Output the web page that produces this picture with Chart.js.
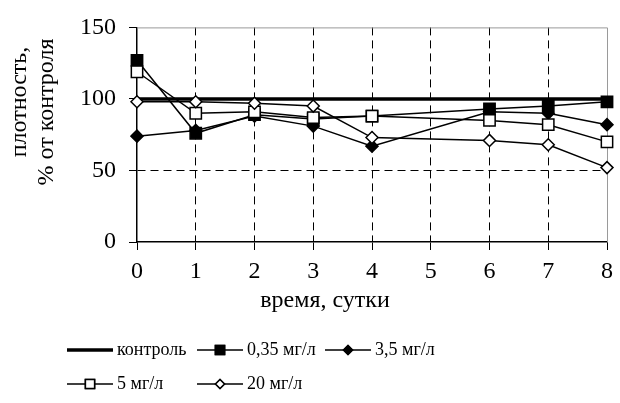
<!DOCTYPE html>
<html>
<head>
<meta charset="utf-8">
<script src="https://cdn.jsdelivr.net/npm/chart.js@4/dist/chart.umd.min.js"></script>
<style>
  body { margin: 0; background: #fff; }
</style>
</head>
<body>
<canvas id="density" width="620" height="403"></canvas>
<script>
var DAYS = [0, 1, 2, 3, 4, 6, 7, 8];

var SERIES_NAMES = ["контроль", "0,35 мг/л", "3,5 мг/л", "5 мг/л", "20 мг/л"];
var CONTROL = [100, 100, 100, 100, 100, 100, 100, 100];
var DOSE_035 = [127, 76, 89, 86, 88, 93, 95, 98];
var DOSE_35 = [74, 78, 88, 81, 67, 91, 90, 82];
var DOSE_5 = [119, 90, 91, 87, 88, 85, 82, 70];
var DOSE_20 = [98, 98, 97, 95, 73, 71, 68, 52];

var X_TICKS = [0, 1, 2, 3, 4, 5, 6, 7, 8];
var Y_TICKS = [0, 50, 100, 150];

var X_TITLE = "время, сутки";
var Y_TITLE = ["плотность,", "% от контроля"];

var FONT = "'Liberation Serif', 'Times New Roman', serif";

function points(values) {
    return values.map(function (v, i) {
        return { x: DAYS[i], y: v };
    });
}

function series(label, values, style, order) {
    return {
        label: label,
        data: points(values),
        borderColor: "#000",
        borderWidth: 1.5,
        pointStyle: style.shape,
        pointRadius: style.radius,
        pointBackgroundColor: style.fill,
        pointBorderColor: "#000",
        pointBorderWidth: 1.5,
        tension: 0,
        clip: false,
        order: order,
    };
}

const datasets = [
    {
        label: SERIES_NAMES[0],
        data: points(CONTROL),
        borderColor: "#000",
        borderWidth: 3.5,
        pointRadius: 0,
        clip: false,
        order: 5,
    },
    series(SERIES_NAMES[1], DOSE_035, { shape: "rect", radius: 8, fill: "#000" }, 3),
    series(SERIES_NAMES[2], DOSE_35, { shape: "rectRot", radius: 6, fill: "#000" }, 4),
    series(SERIES_NAMES[3], DOSE_5, { shape: "rect", radius: 8, fill: "#fff" }, 2),
    series(SERIES_NAMES[4], DOSE_20, { shape: "rectRot", radius: 6, fill: "#fff" }, 1),
];

// frame on top/right, axis titles and the grid legend under the plot
const decorations = {
    id: "decorations",
    beforeDatasetsDraw: function (chart) {
        const a = chart.chartArea;
        const ctx = chart.ctx;
        ctx.save();
        ctx.strokeStyle = "#9a9a9a";
        ctx.lineWidth = 1;
        ctx.beginPath();
        ctx.moveTo(a.left, a.top + 0.5);
        ctx.lineTo(a.right + 0.5, a.top + 0.5);
        ctx.lineTo(a.right + 0.5, a.bottom);
        ctx.stroke();
        ctx.restore();
    },
    afterDraw: function (chart) {
        const ctx = chart.ctx;
        ctx.save();
        ctx.fillStyle = "#000";
        ctx.textBaseline = "middle";

        ctx.font = "24px " + FONT;
        ctx.textAlign = "center";
        ctx.fillText(X_TITLE, 325, 301);

        ctx.save();
        ctx.translate(20, 102);
        ctx.rotate(-Math.PI / 2);
        ctx.fillText(Y_TITLE[0], 0, 0);
        ctx.restore();
        ctx.save();
        ctx.translate(47, 112);
        ctx.rotate(-Math.PI / 2);
        ctx.fillText(Y_TITLE[1], 0, 0);
        ctx.restore();

        const cols = [67, 197, 325];
        const rows = [350, 384];
        ctx.font = "18px " + FONT;
        ctx.textAlign = "left";
        chart.data.datasets.forEach(function (ds, i) {
            const x = cols[i % 3];
            const y = rows[Math.floor(i / 3)];
            ctx.strokeStyle = "#000";
            ctx.lineWidth = ds.borderWidth;
            ctx.beginPath();
            ctx.moveTo(x, y);
            ctx.lineTo(x + 46, y);
            ctx.stroke();
            if (ds.pointRadius) {
                // legend markers are a bit smaller than the plotted ones
                Chart.helpers.drawPoint(ctx, {
                    pointStyle: ds.pointStyle,
                    radius: ds.pointRadius - 1.5,
                    borderWidth: ds.pointBorderWidth,
                }, x + 23, y);
                ctx.fillStyle = ds.pointBackgroundColor;
                ctx.strokeStyle = "#000";
                ctx.lineWidth = ds.pointBorderWidth;
                ctx.fill();
                ctx.stroke();
            }
            ctx.fillStyle = "#000";
            ctx.fillText(ds.label, x + 50, y);
        });
        ctx.restore();
    },
};

const config = {
    type: "line",
    data: { datasets: datasets },
    options: {
        animation: false,
        responsive: false,
        events: [],
        layout: {
            padding: { top: 26, right: 8, bottom: 0, left: 0 },
        },
        plugins: {
            legend: { display: false },
            tooltip: { enabled: false },
        },
        scales: {
            x: {
                type: "linear",
                min: X_TICKS[0],
                max: X_TICKS[X_TICKS.length - 1],
                afterFit: function (scale) {
                    scale.height = 161;
                },
                afterBuildTicks: function (scale) {
                    scale.ticks = X_TICKS.map(function (v) { return { value: v }; });
                },
                ticks: {
                    color: "#000",
                    padding: 7,
                    font: { family: FONT, size: 24 },
                    maxRotation: 0,
                },
                grid: {
                    color: function (c) {
                        const v = c.tick ? c.tick.value : 0;
                        return v > 0 && v < 8 ? "#000" : "rgba(0,0,0,0)";
                    },
                    tickColor: "#000",
                    tickLength: 8,
                },
                border: { color: "#000", width: 1.5, dash: [8, 5] },
            },
            y: {
                min: Y_TICKS[0],
                max: Y_TICKS[Y_TICKS.length - 1],
                afterFit: function (scale) {
                    scale.width = 137;
                },
                afterBuildTicks: function (scale) {
                    scale.ticks = Y_TICKS.map(function (v) { return { value: v }; });
                },
                ticks: {
                    color: "#000",
                    padding: 13,
                    font: { family: FONT, size: 24 },
                },
                grid: {
                    color: function (c) {
                        const v = c.tick ? c.tick.value : 0;
                        return v == 50 || v == 100 ? "#000" : "rgba(0,0,0,0)";
                    },
                    tickColor: "#000",
                    tickLength: 8,
                },
                border: { color: "#000", width: 1.5, dash: [8, 5] },
            },
        },
    },
};

new Chart(document.getElementById("density"), {
    type: config.type,
    data: config.data,
    options: config.options,
    plugins: [decorations],
});
</script>
</body>
</html>
